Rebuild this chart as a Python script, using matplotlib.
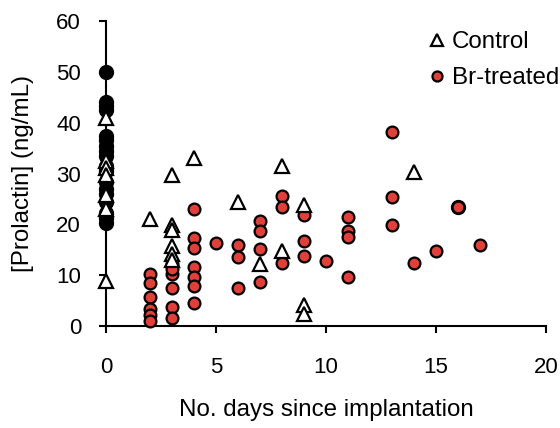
import matplotlib
matplotlib.use("Agg")
import matplotlib.pyplot as plt

plt.rcParams["font.family"] = ["Liberation Sans", "DejaVu Sans"]

# day-0 baseline (black circles)
base_x = [0] * 18 + [16]
base_y = [50, 44, 43.3, 42.5, 37.3, 36.5, 35.5, 34.5, 33.5, 31.5, 30.5,
          28.4, 27, 26, 24.3, 22.3, 21.2, 20.3, 23.5]

# control (open triangles)
ctrl_x = [0, 0, 0, 0, 0, 0, 0, 2, 3, 3, 3, 3, 3, 3, 4, 6, 7, 8, 8, 9, 9, 9, 14]
ctrl_y = [41, 32.5, 31, 29.8, 25.8, 23, 8.8, 21, 29.8, 19.8, 18.9, 15.8, 14.2,
          13, 33, 24.3, 12.2, 31.5, 14.7, 23.9, 4.1, 2.4, 30.3]

# Br-treated (red circles)
br_x = [2, 2, 2, 2, 2, 2,
        3, 3, 3, 3, 3, 3,
        4, 4, 4, 4, 4, 4, 4,
        5, 6, 6, 6, 7, 7, 7, 7,
        8, 8, 8, 9, 9, 9, 10, 11, 11, 11, 11,
        13, 13, 13, 14, 15, 16, 17]
br_y = [10.3, 8.5, 5.7, 3.3, 2.2, 1.0,
        12.2, 10.2, 7.5, 3.8, 1.6, 11.2,
        23, 17.3, 15.4, 11.6, 9.7, 7.9, 4.6,
        16.3, 16, 13.6, 7.4, 20.7, 18.6, 15.2, 8.7,
        25.5, 23.5, 12.4, 21.9, 16.8, 13.7, 12.8, 21.5, 18.6, 17.6, 9.7,
        38.1, 25.3, 19.9, 12.4, 14.7, 23.5, 16]

fig = plt.figure(figsize=(5.6, 4.28), dpi=100)
# axes box in pixels: x 106..546, y 21..326
ax = fig.add_axes([106 / 560, (428 - 326) / 428, 440 / 560, 305 / 428])

ax.plot(base_x, base_y, "o", color="black", markersize=9.5, mec="black",
        mew=1.5, zorder=2, clip_on=False)
ax.plot(br_x, br_y, "o", color="#e0403a", markersize=8.5, mec="black",
        mew=1.6, label="Br-treated", zorder=3, clip_on=False)
ax.plot(ctrl_x, ctrl_y, "^", mfc="white", mec="black", markersize=9.5,
        mew=1.6, label="Control", zorder=4, clip_on=False)

ax.set_xlim(0, 20)
ax.set_ylim(0, 60)
ax.set_xticks([0, 5, 10, 15, 20])
ax.set_yticks(range(0, 61, 10))
ax.spines["top"].set_visible(False)
ax.spines["right"].set_visible(False)
ax.spines["left"].set_linewidth(1.5)
ax.spines["bottom"].set_linewidth(1.5)
ax.tick_params(direction="out", length=5, width=1.5, labelsize=16)
ax.tick_params(axis="x", pad=17)
ax.tick_params(axis="y", pad=13)

ax.set_xlabel("No. days since implantation", fontsize=17.4)
ax.xaxis.label.set_va("center")
ax.xaxis.set_label_coords(0.5, (326 - 410) / 305)
ax.set_ylabel("[Prolactin] (ng/mL)", fontsize=17.4)
ax.yaxis.label.set_va("center")
ax.yaxis.set_label_coords((23 - 106) / 440, 0.5)

h, l = ax.get_legend_handles_labels()
fig.legend(h[::-1], l[::-1], loc="upper left",
           bbox_to_anchor=(430 / 560, 1 - 31 / 428), frameon=False,
           fontsize=17.4, markerscale=0.85, handlelength=0.6,
           handletextpad=0.3, labelspacing=0.58, borderaxespad=0,
           borderpad=0)

fig.savefig("out.png", dpi=100)
